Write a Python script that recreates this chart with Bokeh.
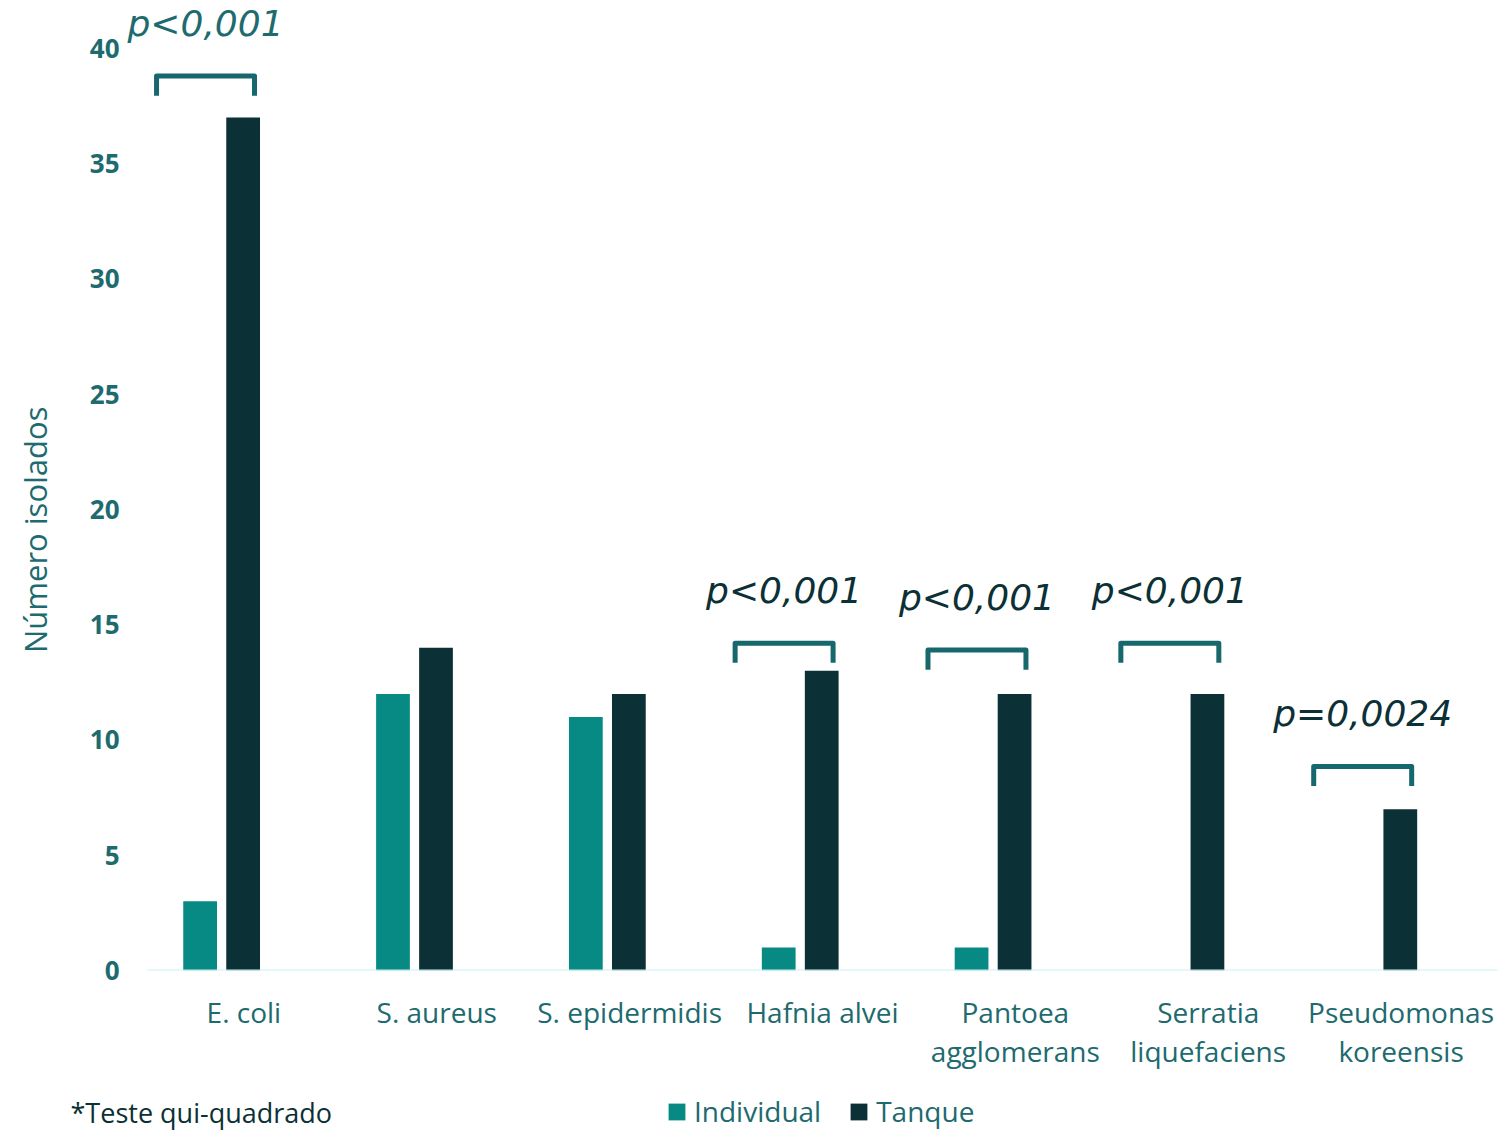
from bokeh.plotting import figure
from bokeh.models import (ColumnDataSource, Range1d, FixedTicker, Legend, LegendItem,
                          LinearAxis)
from bokeh.transform import dodge
from bokeh.core.properties import value
from bokeh.embed import file_html
from bokeh.resources import INLINE

# ---------------- data ----------------
categories = ["E. coli", "S. aureus", "S. epidermidis", "Hafnia alvei",
              "Pantoea agglomerans", "Serratia liquefaciens", "Pseudomonas koreensis"]
label_line1 = ["E. coli", "S. aureus", "S. epidermidis", "Hafnia alvei",
               "Pantoea", "Serratia", "Pseudomonas"]
label_line2 = ["", "", "", "", "agglomerans", "liquefaciens", "koreensis"]
individual = [3, 12, 11, 1, 1, 0, 0]
tanque = [37, 14, 12, 13, 12, 12, 7]
p_labels = ["p<0,001", None, None, "p<0,001", "p<0,001", "p<0,001", "p=0,0024"]
bracket_level = [38.8, None, None, 14.2, 13.9, 14.2, 8.85]
y_ticks = [0, 5, 10, 15, 20, 25, 30, 35, 40]
series_names = ["Individual", "Tanque"]
footnote = "*Teste qui-quadrado"
y_title = "Número isolados"

# ---------------- style ----------------
C_IND = "#068a83"
C_TAN = "#0b3036"
C_TEXT = "#1d6a6f"
C_DARK = "#0b3035"
C_BRACKET = "#17686d"
C_BASE = "#c6f2f5"
FONT = "Open Sans"
W = 1509
CAT_PX = 192.86            # pixels per category
LEFT, RIGHT = 118, 12      # borders around the plotting frame

n = len(categories)
pos = list(range(n))
x_start = (n - 0.5) - (W - LEFT - RIGHT) / CAT_PX

p = figure(width=W, height=1085,
           x_range=Range1d(x_start, n - 0.5),
           y_range=Range1d(0, 42.08),
           x_axis_location=None,
           output_backend="svg", toolbar_location=None,
           min_border_left=LEFT, min_border_right=RIGHT, min_border_top=0,
           min_border_bottom=115)
p.outline_line_color = None
p.grid.grid_line_color = None
p.background_fill_color = "white"
p.border_fill_color = "white"

src = ColumnDataSource(dict(pos=pos, ind=individual, tan=tanque))
r_ind = p.vbar(x=dodge("pos", -0.227), top="ind", width=0.175,
               source=src, fill_color=C_IND, line_color=None)
r_tan = p.vbar(x=dodge("pos", -0.004), top="tan", width=0.175,
               source=src, fill_color=C_TAN, line_color=None)

# category baseline (drawn over the bars like the reference)
p.segment(x0=[-0.5], x1=[n - 0.5], y0=[0], y1=[0], line_color=C_BASE, line_width=2)

# brackets and p-value labels
bx, by, tx, ty, tt, tc = [], [], [], [], [], []
for i, (lvl, lab) in enumerate(zip(bracket_level, p_labels)):
    if lvl is None:
        continue
    xl, xr = i - 0.453, i + 0.055
    bx.append([xl, xl, xr, xr])
    by.append([lvl - 0.85, lvl, lvl, lvl - 0.85])
    tx.append((xl + xr) / 2)
    ty.append(lvl + 2.28)
    tt.append(lab)
    tc.append(C_TEXT if i == 0 else C_DARK)

p.multi_line(xs=bx, ys=by, line_color=C_BRACKET, line_width=5,
             line_join="round", line_cap="butt")
p.text(x=tx, y=ty, text=tt, text_color=tc, text_font=value("DejaVu Sans"),
       text_font_style="italic", text_font_size="36px",
       text_align="center", text_baseline="alphabetic")

# x axes (two label lines)
def make_xaxis(labels, standoff):
    ax = LinearAxis(ticker=FixedTicker(ticks=pos))
    ax.axis_line_color = None
    ax.major_tick_line_color = None
    ax.minor_tick_line_color = None
    ax.major_label_text_font = FONT
    ax.major_label_text_font_size = "28px"
    ax.major_label_text_color = C_TEXT
    ax.major_label_standoff = standoff
    ax.major_label_overrides = {k: (v if v else " ") for k, v in zip(pos, labels)}
    return ax

p.add_layout(make_xaxis(label_line1, 16), "below")
p.add_layout(make_xaxis(label_line2, -8), "below")

ya = p.yaxis[0]
ya.ticker = FixedTicker(ticks=y_ticks)
ya.axis_line_color = None
ya.major_tick_line_color = None
ya.minor_tick_line_color = None
ya.major_label_text_font = FONT
ya.major_label_text_font_style = "bold"
ya.major_label_text_font_size = "26px"
ya.major_label_text_color = C_TEXT
ya.major_label_standoff = -7
ya.axis_label = y_title + "\u00a0" * 11
ya.axis_label_text_font = FONT
ya.axis_label_text_font_style = "normal"
ya.axis_label_text_font_size = "31px"
ya.axis_label_text_color = C_TEXT
ya.axis_label_standoff = 31

# ---------------- footer: footnote + legend (separate root, no frame alignment) ----------------
FH = 47
f = figure(width=W, height=FH, x_range=Range1d(0, W), y_range=Range1d(0, FH),
           x_axis_location=None, y_axis_location=None,
           output_backend="svg", toolbar_location=None,
           min_border_left=0, min_border_right=0, min_border_top=0, min_border_bottom=0)
f.grid.grid_line_color = None
f.outline_line_color = None

f.text(x=[70], y=[20], text=[footnote], text_color=C_DARK,
       text_font=value(FONT), text_font_size="27px",
       text_align="left", text_baseline="middle")

# zero-height stand-ins that only carry the legend swatch styles
swatch = ColumnDataSource(dict(x=[0], top=[0]))
d_ind = f.vbar(x="x", top="top", bottom=0, width=1, source=swatch,
               fill_color=C_IND, line_color=None)
d_tan = f.vbar(x="x", top="top", bottom=0, width=1, source=swatch,
               fill_color=C_TAN, line_color=None)

legend = Legend(items=[LegendItem(label=series_names[0], renderers=[d_ind]),
                       LegendItem(label=series_names[1], renderers=[d_tan])],
                orientation="horizontal", location=(666, 2),
                label_text_font=FONT, label_text_font_size="28px",
                label_text_color=C_TEXT, glyph_width=21, glyph_height=21,
                label_standoff=7, spacing=27, padding=0, margin=0,
                border_line_color=None, background_fill_alpha=0)
f.add_layout(legend, "center")

open("out.html", "w").write(file_html([p, f], INLINE))
